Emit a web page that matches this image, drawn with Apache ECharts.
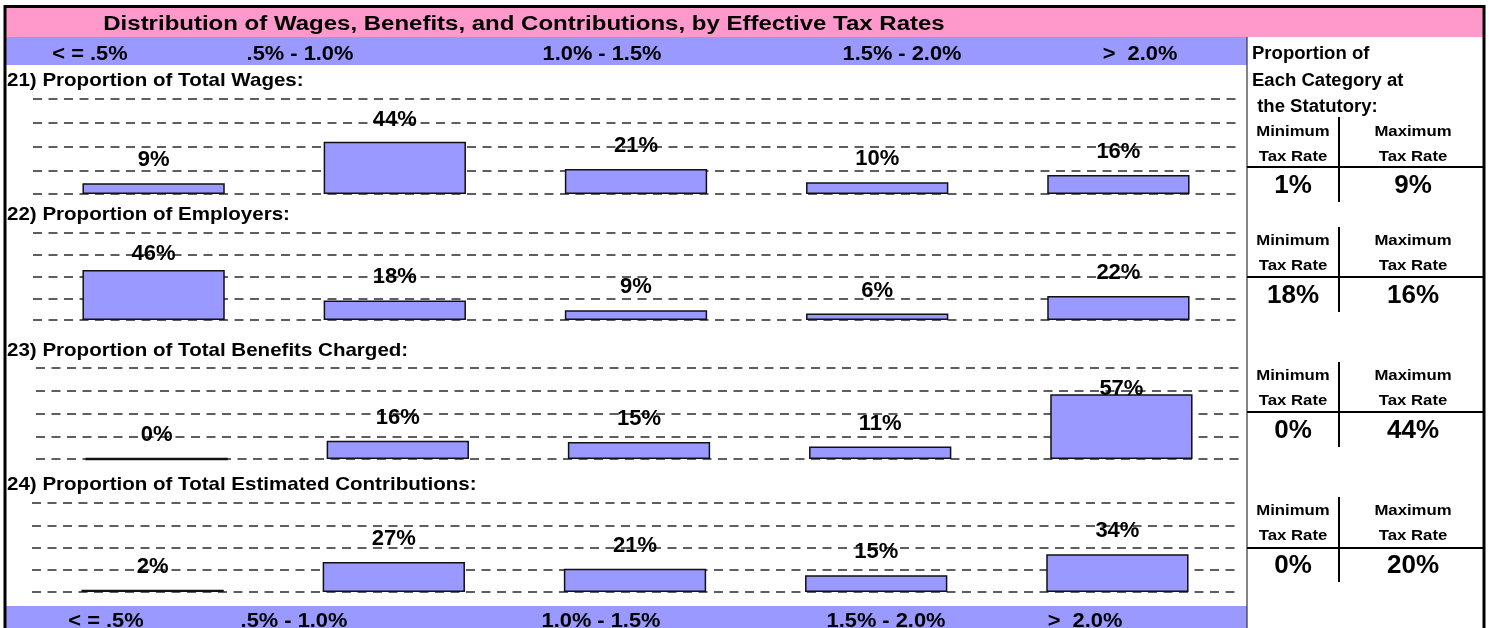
<!DOCTYPE html>
<html>
<head>
<meta charset="utf-8">
<script src="https://cdn.jsdelivr.net/npm/echarts@6/dist/echarts.min.js"></script>
<style>
  html, body { margin: 0; padding: 0; background: #fff; }
  #chart { width: 1489px; height: 628px; }
</style>
</head>
<body>
<div id="chart"></div>
<script>
// ---------- DATA ----------
const chartTitle = 'Distribution of Wages, Benefits, and Contributions, by Effective Tax Rates';
const categories = ['< = .5%', '.5% - 1.0%', '1.0% - 1.5%', '1.5% - 2.0%', '>  2.0%'];
const panelTitles = [
  '21) Proportion of Total Wages:',
  '22) Proportion of Employers:',
  '23) Proportion of Total Benefits Charged:',
  '24) Proportion of Total Estimated Contributions:'
];
const wages         = [9, 44, 21, 10, 16];
const employers     = [46, 18, 9, 6, 22];
const benefits      = [0, 16, 15, 11, 57];
const contributions = [2, 27, 21, 15, 34];
const panelValues = [wages, employers, benefits, contributions];
const minTaxRate = [1, 18, 0, 0];
const maxTaxRate = [9, 16, 44, 20];
const tableHeader = ['Proportion of', 'Each Category at', ' the Statutory:'];
const colHeadTop = ['Minimum', 'Maximum'];
const colHeadBottom = ['Tax Rate', 'Tax Rate'];
const yMin = 0, yMax = 80, yStep = 20;

// ---------- LAYOUT ----------
const FONT = '"Liberation Sans", Arial, Helvetica, sans-serif';
const PINK = '#FF99CC', BLUE = '#9999FF';
const gridTop = [99, 233, 368, 503];
const gridH = [95, 87, 91, 89];
const gridLeft = [33, 33, 36, 32];
const gridW = 1206;
const panelLabelY = [80.5, 214.5, 350.5, 485];
const headerX = [90, 300, 602, 902, 1140];
const footerX = [106, 294, 601, 886, 1085];
const tMinY = [131.5, 240.5, 375.5, 510.5];
const tTaxY = [156.5, 265.5, 400.5, 535.5];
const tLineY = [167, 277, 412, 548];
const tValY = [186, 296, 431, 566];
const tVTop = [117, 227, 362, 497];
const tVBot = [202, 312, 447, 582];
const colX = [1293, 1413];

const chart = echarts.init(document.getElementById('chart'), null, { renderer: 'canvas' });

const grids = [], xAxes = [], yAxes = [], series = [];
panelValues.forEach((vals, i) => {
  grids.push({ left: gridLeft[i], top: gridTop[i], width: gridW, height: gridH[i], containLabel: false });
  xAxes.push({
    type: 'category', gridIndex: i, data: categories,
    axisLine: { show: false }, axisTick: { show: false }, axisLabel: { show: false }, splitLine: { show: false }
  });
  yAxes.push({
    type: 'value', gridIndex: i, min: yMin, max: yMax, interval: yStep,
    axisLine: { show: false }, axisTick: { show: false }, axisLabel: { show: false },
    splitLine: { show: true, lineStyle: { color: '#2b2b2b', width: 1.6, type: [9, 6.5] } }
  });
  const H = gridH[i];
  series.push({
    type: 'bar', xAxisIndex: i, yAxisIndex: i, barWidth: '59%',
    itemStyle: { color: BLUE, borderColor: '#111', borderWidth: 1.5 },
    label: {
      show: true, position: 'top', formatter: '{c}%',
      fontFamily: FONT, fontWeight: 'bold', fontSize: 22, color: '#000'
    },
    data: vals.map(v => {
      const room = (yMax - v) / (yMax - yMin) * H;
      const d = Math.min(12, room - 32);
      return { value: v, label: { distance: d }, itemStyle: { borderWidth: v === 0 ? 2.6 : 1.5 } };
    }),
    z: 3
  });
});

const g = [];
// bands
g.push({ type: 'rect', shape: { x: 6, y: 7, width: 1477, height: 30 }, style: { fill: PINK }, z: 1 });
g.push({ type: 'rect', shape: { x: 6, y: 37, width: 1241, height: 28 }, style: { fill: BLUE }, z: 1 });
g.push({ type: 'rect', shape: { x: 6, y: 606, width: 1241, height: 30 }, style: { fill: BLUE }, z: 1 });
// table separator
g.push({ type: 'line', shape: { x1: 1247, y1: 37, x2: 1247, y2: 628 }, style: { stroke: '#333', lineWidth: 1.2 }, z: 2 });
// outer frame
g.push({ type: 'rect', shape: { x: 5, y: 6.5, width: 1479, height: 700 }, style: { fill: null, stroke: '#000', lineWidth: 3 }, z: 5 });
// title
g.push({ type: 'text', x: 524, y: 24, scaleX: 1.2, style: { text: chartTitle, font: 'bold 20px ' + FONT, fill: '#000', align: 'center', verticalAlign: 'middle' }, z: 6 });
// header / footer category labels
categories.forEach((c, j) => {
  g.push({ type: 'text', x: headerX[j], y: 55, scaleX: 1.12, style: { text: c, font: 'bold 19.5px ' + FONT, fill: '#000', align: 'center', verticalAlign: 'middle' }, z: 6 });
  g.push({ type: 'text', x: footerX[j], y: 621.5, scaleX: 1.12, style: { text: c, font: 'bold 19.5px ' + FONT, fill: '#000', align: 'center', verticalAlign: 'middle' }, z: 6 });
});
// panel titles
panelTitles.forEach((t, i) => {
  g.push({ type: 'text', x: 7, y: panelLabelY[i], scaleX: 1.11, style: { text: t, font: 'bold 18.5px ' + FONT, fill: '#000', align: 'left', verticalAlign: 'middle' }, z: 6 });
});
// table header
const thY = [54.5, 81, 107];
tableHeader.forEach((t, k) => {
  g.push({ type: 'text', x: 1252, y: thY[k], scaleX: 1.03, style: { text: t, font: 'bold 18px ' + FONT, fill: '#000', align: 'left', verticalAlign: 'middle' }, z: 6 });
});
// table rows
for (let i = 0; i < 4; i++) {
  [0, 1].forEach(c => {
    g.push({ type: 'text', x: colX[c], y: tMinY[i], scaleX: 1.08, style: { text: colHeadTop[c], font: 'bold 15.5px ' + FONT, fill: '#000', align: 'center', verticalAlign: 'middle' }, z: 6 });
    g.push({ type: 'text', x: colX[c], y: tTaxY[i], scaleX: 1.08, style: { text: colHeadBottom[c], font: 'bold 15.5px ' + FONT, fill: '#000', align: 'center', verticalAlign: 'middle' }, z: 6 });
  });
  g.push({ type: 'text', x: colX[0], y: tValY[i], style: { text: minTaxRate[i] + '%', font: 'bold 26px ' + FONT, fill: '#000', align: 'center', verticalAlign: 'middle' }, z: 6 });
  g.push({ type: 'text', x: colX[1], y: tValY[i], style: { text: maxTaxRate[i] + '%', font: 'bold 26px ' + FONT, fill: '#000', align: 'center', verticalAlign: 'middle' }, z: 6 });
  g.push({ type: 'line', shape: { x1: 1247, y1: tLineY[i], x2: 1483, y2: tLineY[i] }, style: { stroke: '#000', lineWidth: 2 }, z: 6 });
  g.push({ type: 'line', shape: { x1: 1339, y1: tVTop[i], x2: 1339, y2: tVBot[i] }, style: { stroke: '#000', lineWidth: 2 }, z: 6 });
}

chart.setOption({
  animation: false,
  backgroundColor: '#fff',
  grid: grids,
  xAxis: xAxes,
  yAxis: yAxes,
  series: series,
  graphic: { elements: g }
});
</script>
</body>
</html>
